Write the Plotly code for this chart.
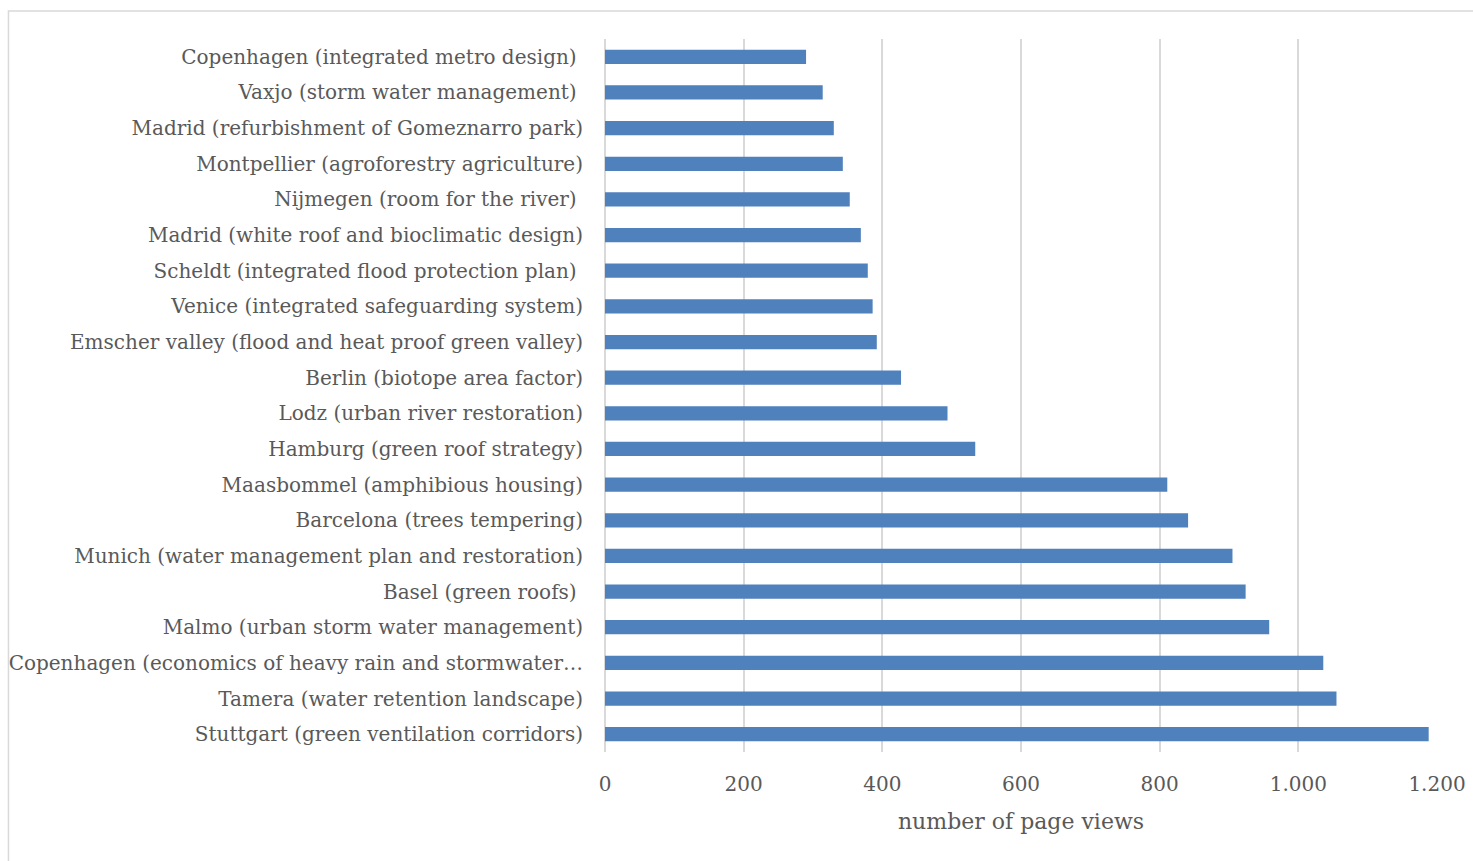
import plotly.graph_objects as go

# Case studies, listed top to bottom as they appear on the chart
case_studies = [
    "Copenhagen (integrated metro design)\u00a0",
    "Vaxjo (storm water management)\u00a0",
    "Madrid (refurbishment of Gomeznarro park)",
    "Montpellier (agroforestry agriculture)",
    "Nijmegen (room for the river)\u00a0",
    "Madrid (white roof and bioclimatic design)",
    "Scheldt (integrated flood protection plan)\u00a0",
    "Venice (integrated safeguarding system)",
    "Emscher valley (flood and heat proof green valley)",
    "Berlin (biotope area factor)",
    "Lodz (urban river restoration)",
    "Hamburg (green roof strategy)",
    "Maasbommel (amphibious housing)",
    "Barcelona (trees tempering)",
    "Munich (water management plan and restoration)",
    "Basel (green roofs)\u00a0",
    "Malmo (urban storm water management)",
    "Copenhagen (economics of heavy rain and stormwater\u2026",
    "Tamera (water retention landscape)",
    "Stuttgart (green ventilation corridors)",
]

page_views = [290, 314, 330, 343, 353, 369, 379, 386, 392, 427,
              494, 534, 811, 841, 905, 924, 958, 1036, 1055, 1188]

x_ticks = [0, 200, 400, 600, 800, 1000, 1200]

FONT = "DejaVu Serif"
TEXT = "#595959"
GRID = "#d9d9d9"

fig = go.Figure(
    go.Bar(
        x=page_views,
        y=case_studies,
        orientation="h",
        marker=dict(color="#4f81bd", line=dict(width=0)),
        width=0.4,
        hoverinfo="x+y",
    )
)

fig.update_layout(
    width=1473,
    height=861,
    margin=dict(l=605, r=36, t=39, b=109),
    paper_bgcolor="white",
    plot_bgcolor="white",
    separators=",.",
    showlegend=False,
    font=dict(family=FONT, color=TEXT, size=20),
    shapes=[
        dict(
            type="rect",
            xref="paper", yref="paper",
            x0=-0.717, x1=1.1, y0=-0.20, y1=1.0393,
            line=dict(color="#d9d9d9", width=1.5),
            fillcolor="rgba(0,0,0,0)",
            layer="below",
        )
    ],
)

fig.update_xaxes(
    range=[0, 1200],
    tickvals=x_ticks,
    tickformat=",d",
    showgrid=True,
    gridcolor=GRID,
    gridwidth=1.5,
    zeroline=True,
    zerolinecolor=GRID,
    zerolinewidth=1.5,
    showline=False,
    ticks="",
    automargin=False,
    ticklabelstandoff=18,
    tickfont=dict(family=FONT, color=TEXT, size=20),
    title=dict(text="number of page views", font=dict(family=FONT, color=TEXT, size=22), standoff=18),
)

fig.update_yaxes(
    autorange="reversed",
    showgrid=False,
    zeroline=False,
    showline=False,
    ticks="",
    automargin=False,
    ticklabelstandoff=21,
    tickfont=dict(family=FONT, color=TEXT, size=20),
)

fig.write_html("out.html")
